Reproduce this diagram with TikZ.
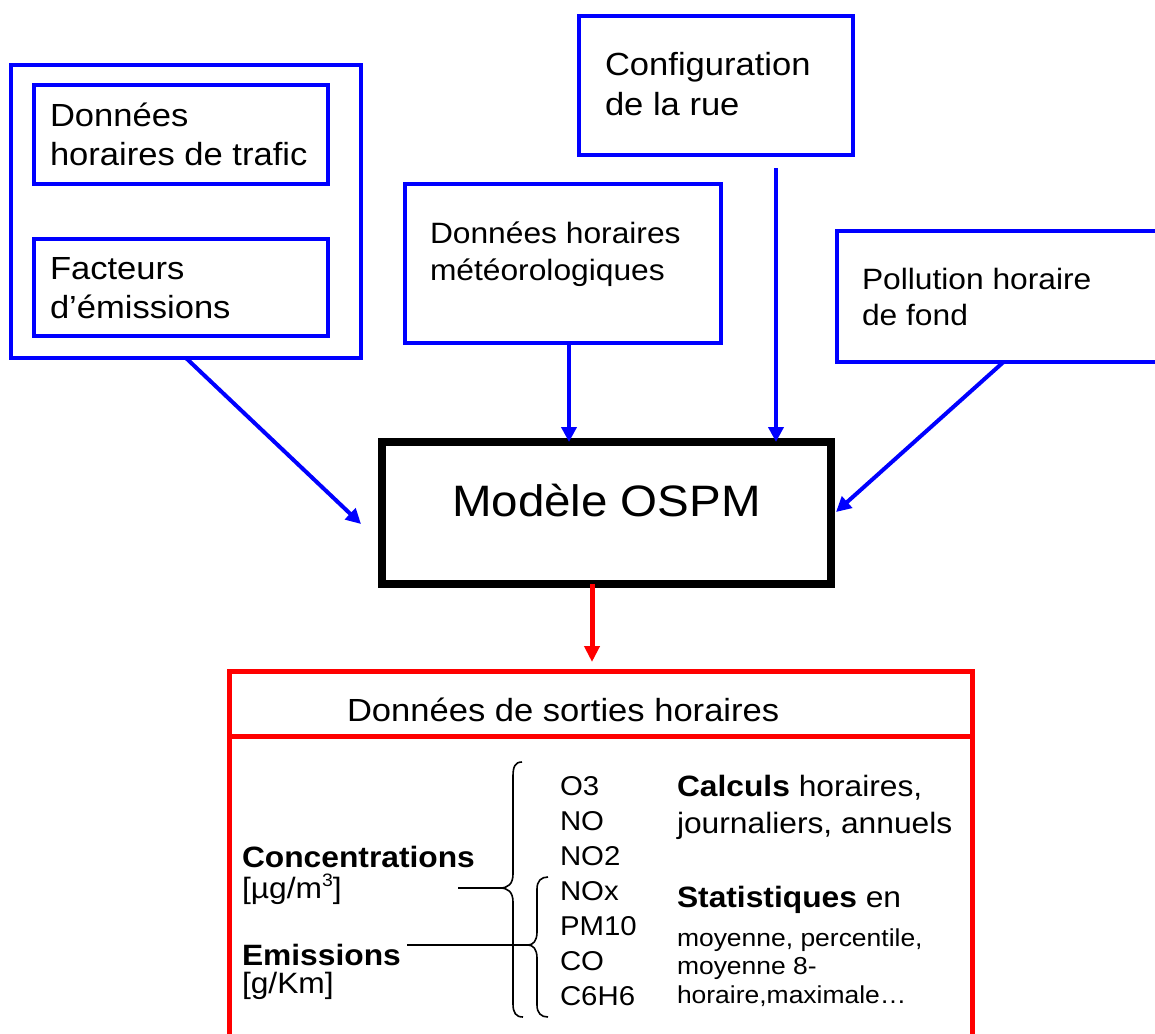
\documentclass[tikz,border=0pt]{standalone}
\usepackage{fontspec}
\setmainfont{Liberation Sans}[FakeStretch=1.08]
\usetikzlibrary{arrows.meta}
\definecolor{pblue}{RGB}{0,0,255}
\definecolor{pred}{RGB}{255,0,0}
\newcommand{\szbox}{\fontsize{32}{38}\selectfont}
\newcommand{\szmid}{\fontsize{29.4}{35}\selectfont}
\newcommand{\szsub}{\fontsize{27.2}{33}\selectfont}
\newcommand{\szsmall}{\fontsize{24.5}{29}\selectfont}
\newcommand{\szmodel}{\fontsize{44}{50}\selectfont}
\newcommand{\szsup}{\fontsize{18}{20}\selectfont}
\begin{document}
\begin{tikzpicture}[x=1pt,y=-1pt,
 blbox/.style={draw=pblue, line width=4pt, inner sep=0pt, outer sep=0pt, anchor=north west},
 blarrow/.style={draw=pblue, line width=4pt, -{Triangle[length=15pt,width=15pt]}},
 rdarrow/.style={draw=pred, line width=5pt, -{Triangle[length=16pt,width=15pt]}},
 txt/.style={anchor=base west, inner sep=0pt, outer sep=0pt},
 brace/.style={draw=black, line width=1.6pt},
 ]
\useasboundingbox (0,0) rectangle (1155,1033);
\clip (0,0) rectangle (1155,1033);

% boxes
\node[blbox, minimum width=350pt, minimum height=293pt] (outer) at (11,65) {};
\node[blbox, minimum width=294pt, minimum height=99pt] (traffic) at (34,85) {};
\node[blbox, minimum width=294pt, minimum height=97pt] (factors) at (34,239) {};
\node[blbox, minimum width=274pt, minimum height=139pt] (config) at (579,16) {};
\node[blbox, minimum width=316pt, minimum height=159pt] (meteo) at (405,184) {};
\node[blbox, minimum width=340pt, minimum height=131pt] (pollu) at (837,231) {};
\node[draw=black, line width=8pt, inner sep=0pt, outer sep=0pt, anchor=north west,
      minimum width=449pt, minimum height=142pt] (model) at (382,442) {};
\node[draw=pred, line width=5pt, inner sep=0pt, outer sep=0pt, anchor=north west,
      minimum width=743pt, minimum height=420pt] (out) at (229,671) {};
\draw[draw=pred, line width=5pt] ([yshift=-65pt]out.north west) -- ([yshift=-65pt]out.north east);

% box texts
\node[txt] (t1a) at (50,126) {\szbox Données};
\node[txt] (t1b) at (50,165) {\szbox horaires de trafic};
\node[txt] (t2a) at (50,279) {\szbox Facteurs};
\node[txt] (t2b) at (50,318) {\szbox d’émissions};
\node[txt] (t3a) at (605,75) {\szbox Configuration};
\node[txt] (t3b) at (605,115) {\szbox de la rue};
\node[txt] (t4a) at (430,243) {\szmid Données horaires};
\node[txt] (t4b) at (430,280) {\szmid météorologiques};
\node[txt] (t5a) at (862,289) {\szmid Pollution horaire};
\node[txt] (t5b) at (862,325) {\szmid de fond};
\node[anchor=base, inner sep=0pt] (t6) at (606.5,516) {\szmodel Modèle OSPM};
\node[txt] (t7) at (347,721) {\szbox Données de sorties horaires};

% arrows
\draw[blarrow] (outer.south) -- ([xshift=-21pt,yshift=-11pt]model.west);
\draw[blarrow] ([xshift=6pt]meteo.south) -- ([xshift=6pt]meteo.south |- model.north);
\draw[blarrow, shorten <=13pt] ([xshift=60pt]config.south) -- ([xshift=60pt]config.south |- model.north);
\draw[blarrow] ([xshift=-3.5pt]pollu.south) -- ([xshift=5pt,yshift=1pt]model.east);
\draw[rdarrow, shorten >=9pt] ([xshift=-14.5pt]model.south) -- ([xshift=-14.5pt]model.south |- out.north);

% lower content
\node[txt] (conc) at (242,867) {\szmid\bfseries Concentrations};
\node[txt] (concu) at (242,898) {\szmid [µg/m\raisebox{12pt}{\szsup 3}]};
\node[txt] (emis) at (242,965) {\szmid\bfseries Emissions};
\node[txt] (emisu) at (242,993) {\szmid [g/Km]};

\node[txt] (s1) at (560,795) {\szsub O3};
\node[txt] (s2) at (560,830) {\szsub NO};
\node[txt] (s3) at (560,865) {\szsub NO2};
\node[txt] (s4) at (560,900) {\szsub NOx};
\node[txt] (s5) at (560,935) {\szsub PM10};
\node[txt] (s6) at (560,970) {\szsub CO};
\node[txt] (s7) at (560,1005) {\szsub C6H6};

\node[txt] (c1) at (677,796) {\szmid\textbf{Calculs} horaires,};
\node[txt] (c2) at (677,833) {\szmid journaliers, annuels};
\node[txt] (c3) at (677,907) {\szmid\textbf{Statistiques} en};
\node[txt] (c4) at (677,946) {\szsmall moyenne, percentile,};
\node[txt] (c5) at (677,974) {\szsmall moyenne 8-};
\node[txt] (c6) at (677,1003) {\szsmall horaire,maximale…};

% braces
\coordinate (btip) at (500,888);
\coordinate (stip) at (528,945);
\coordinate (cstart) at (458,888);
\coordinate (estart) at (407,945);
\draw[brace] (522,762) .. controls (515,762) and (513,767) .. (513,776) -- (513,874)
  .. controls (513,884) and (508,888) .. (btip)
  .. controls (508,888) and (513,892) .. (513,902) -- (513,1004)
  .. controls (513,1013) and (516,1017) .. (523,1017);
\draw[brace] (548,877) .. controls (541,877) and (537,881) .. (537,889) -- (537,932)
  .. controls (537,941) and (533,945) .. (stip)
  .. controls (533,945) and (537,949) .. (537,958) -- (537,1005)
  .. controls (537,1013) and (541,1017) .. (548,1017);
\draw[brace] (cstart) -- (btip);
\draw[brace] (estart) -- (stip);
\end{tikzpicture}
\end{document}
